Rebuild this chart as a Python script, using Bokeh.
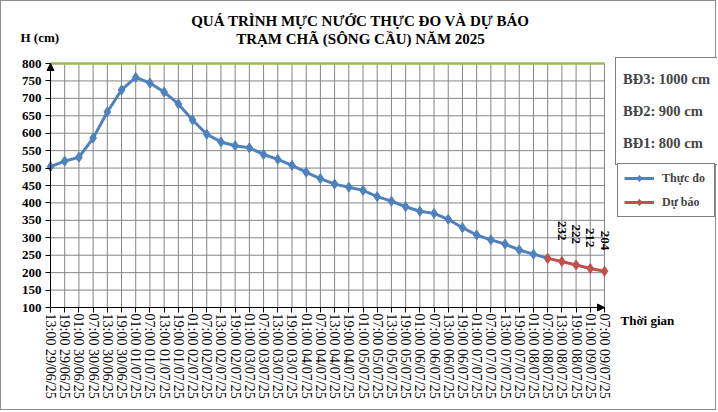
import math
from bokeh.plotting import figure
from bokeh.models import (FixedTicker, Legend, LegendItem, ColumnDataSource, Arrow,
                          NormalHead, Range1d, Label)
from bokeh.core.properties import value
from bokeh.embed import file_html
from bokeh.resources import INLINE

# ---------------- data ----------------
time_labels = [
    "13:00 29/06/25", "19:00 29/06/25", "01:00 30/06/25", "07:00 30/06/25",
    "13:00 30/06/25", "19:00 30/06/25", "01:00 01/07/25", "07:00 01/07/25",
    "13:00 01/07/25", "19:00 01/07/25", "01:00 02/07/25", "07:00 02/07/25",
    "13:00 02/07/25", "19:00 02/07/25", "01:00 03/07/25", "07:00 03/07/25",
    "13:00 03/07/25", "19:00 03/07/25", "01:00 04/07/25", "07:00 04/07/25",
    "13:00 04/07/25", "19:00 04/07/25", "01:00 05/07/25", "07:00 05/07/25",
    "13:00 05/07/25", "19:00 05/07/25", "01:00 06/07/25", "07:00 06/07/25",
    "13:00 06/07/25", "19:00 06/07/25", "01:00 07/07/25", "07:00 07/07/25",
    "13:00 07/07/25", "19:00 07/07/25", "01:00 08/07/25", "07:00 08/07/25",
    "13:00 08/07/25", "19:00 08/07/25", "01:00 09/07/25", "07:00 09/07/25",
]
observed = [504, 520, 531, 586, 661, 724, 760, 744, 718, 684,
            638, 597, 575, 564, 558, 539, 525, 508, 488, 470,
            454, 445, 436, 418, 405, 389, 376, 370, 353, 329,
            308, 294, 282, 265, 253, 241]
forecast = [241, 232, 222, 212, 204]          # starts at last observed point
forecast_labels = ["232", "222", "212", "204"]  # data labels (points 2..5)
y_ticks = list(range(100, 801, 50))
alarm_texts = ["BĐ3: 1000 cm", "BĐ2: 900 cm", "BĐ1: 800 cm"]
alarm_line_level = 800
title_lines = ["QUÁ TRÌNH MỰC NƯỚC THỰC ĐO VÀ DỰ BÁO", "TRẠM CHÃ (SÔNG CẦU) NĂM 2025"]
y_title = "H (cm)"
x_title = "Thời gian"
series_names = ["Thực đo", "Dự báo"]

FONT = "Liberation Serif"
BLUE = "#4F81BD"
RED = "#C0504D"
GREEN = "#9BBB59"
GRID = "#868686"

# ---------------- layout (pixels, figure coordinates) ----------------
# The plotting frame covers the whole canvas; both axes are pinned inside it.
W, H = 716, 410
AX_X, AX_TOP, AX_R, AX_BOT = 49, 62, 603, 306   # where the chart's axes sit


def fx(px):   # figure-pixel x -> frame-relative screen x
    return px


def fy(py):   # figure-pixel y -> frame-relative screen y (upwards)
    return H - py


x_idx = list(range(len(time_labels)))
x_obs = x_idx[:len(observed)]
x_fc = x_idx[len(observed) - 1:len(observed) - 1 + len(forecast)]

ppx = (AX_R - AX_X) / (x_idx[-1] - x_idx[0])
ppy = (AX_BOT - AX_TOP) / (y_ticks[-1] - y_ticks[0])
x_rng = Range1d(x_idx[0] - AX_X / ppx, x_idx[-1] + (W - AX_R) / ppx)
y_rng = Range1d(y_ticks[0] - (H - AX_BOT) / ppy, y_ticks[-1] + AX_TOP / ppy)

p = figure(width=W, height=H, output_backend="svg", toolbar_location=None,
           x_range=x_rng, y_range=y_rng,
           min_border_left=0, min_border_right=0, min_border_top=0,
           min_border_bottom=0)
p.styles = {"border": "1px solid #8c8c8c"}
p.outline_line_color = None
p.background_fill_color = "white"
p.border_fill_color = "white"
p.xgrid.visible = False
p.ygrid.visible = False

# axes
xa, ya = p.xaxis[0], p.yaxis[0]
xa.fixed_location = y_ticks[0]
xa.bounds = (x_idx[0], x_idx[-1])
xa.ticker = FixedTicker(ticks=x_idx)
xa.major_label_overrides = {i: t for i, t in zip(x_idx, time_labels)}
xa.major_label_orientation = -math.pi / 2
xa.major_label_text_font = FONT
xa.major_label_text_font_size = "14px"
xa.major_label_text_color = "black"
xa.minor_tick_line_color = None
xa.major_tick_in = 0
xa.major_tick_out = 5
xa.axis_line_color = "black"
xa.major_tick_line_color = "black"
xa.major_label_standoff = 1

ya.fixed_location = x_idx[0]
ya.bounds = (y_ticks[0], y_ticks[-1])
ya.ticker = FixedTicker(ticks=y_ticks)
ya.major_label_text_font = FONT
ya.major_label_text_font_size = "13px"
ya.major_label_text_font_style = "bold"
ya.major_label_text_color = "black"
ya.minor_tick_line_color = None
ya.major_tick_in = 0
ya.major_tick_out = 5
ya.axis_line_color = "black"
ya.major_tick_line_color = "black"
ya.major_label_standoff = 4

# grid lines, limited to the chart's axes
p.segment(x0=x_idx, x1=x_idx, y0=[y_ticks[0]] * len(x_idx), y1=[y_ticks[-1]] * len(x_idx),
          line_color=GRID, line_width=1)
p.segment(x0=[x_idx[0]] * len(y_ticks), x1=[x_idx[-1]] * len(y_ticks), y0=y_ticks, y1=y_ticks,
          line_color=GRID, line_width=1)

# alarm line (BĐ1)
p.line(x=[x_idx[0], x_idx[-1]], y=[alarm_line_level, alarm_line_level],
       line_color=GREEN, line_width=2.5)

# series
obs_src = ColumnDataSource(dict(x=x_obs, y=observed))
fc_src = ColumnDataSource(dict(x=x_fc, y=forecast))
obs_line = p.line("x", "y", source=obs_src, line_color=BLUE, line_width=3)
obs_pts = p.scatter("x", "y", source=obs_src, marker="diamond", size=10,
                    fill_color=BLUE, line_color=BLUE)
fc_line = p.line("x", "y", source=fc_src, line_color=RED, line_width=3)
fc_pts = p.scatter("x", "y", source=fc_src, marker="diamond", size=10,
                   fill_color=RED, line_color=RED)

# forecast data labels
lab_src = ColumnDataSource(dict(x=x_fc[1:], y=forecast[1:], t=forecast_labels))
p.text("x", "y", text="t", source=lab_src, angle=-math.pi / 2,
       text_align="right", text_baseline="middle", y_offset=-21,
       text_font=value(FONT), text_font_size="13px", text_font_style="bold",
       text_color="black")

# axis-end arrows
head = dict(size=7, fill_color="black", line_color="black")
p.add_layout(Arrow(x_start=x_idx[0], y_start=y_ticks[-2], x_end=x_idx[0], y_end=y_ticks[-1],
                   line_alpha=0, end=NormalHead(**head)))
p.add_layout(Arrow(x_start=x_idx[-2], y_start=y_ticks[0], x_end=x_idx[-1], y_end=y_ticks[0],
                   line_alpha=0, end=NormalHead(**head)))


def add_label(text, x, y, size, align="left"):
    p.add_layout(Label(x=fx(x), y=fy(y), x_units="screen", y_units="screen", text=text,
                       text_font=FONT, text_font_size=size, text_font_style="bold",
                       text_align=align, text_baseline="middle", text_color="black"))


add_label(title_lines[0], 359, 19, "15px", align="center")
add_label(title_lines[1], 359, 37, "15px", align="center")
add_label(y_title, 19, 36, "13px")
add_label(x_title, 619, 319, "13px")

dummy = p.scatter(x=[], y=[], alpha=0)

# alarm-level box
leg1 = Legend(items=[LegendItem(label=t, renderers=[dummy]) for t in alarm_texts],
              location=(fx(614), fy(164)), glyph_width=0, glyph_height=20, label_standoff=0,
              padding=7, label_height=28, spacing=4, margin=0,
              label_text_font=FONT, label_text_font_size="14.5px",
              label_text_font_style="bold", label_text_baseline="alphabetic",
              border_line_color="black", border_line_width=1,
              background_fill_color="white", background_fill_alpha=1)
p.add_layout(leg1)

leg2 = Legend(items=[LegendItem(label=series_names[0], renderers=[obs_line, obs_pts]),
                     LegendItem(label=series_names[1], renderers=[fc_line, fc_pts])],
              location=(fx(616), fy(216)), glyph_width=30, glyph_height=16, label_standoff=8,
              padding=6, label_height=16, spacing=8, label_width=46, margin=0,
              label_text_font=FONT, label_text_font_size="12px",
              label_text_font_style="bold",
              border_line_color="black", border_line_width=1,
              background_fill_color="white", background_fill_alpha=1)
p.add_layout(leg2)

open("out.html", "w").write(file_html(p, INLINE))
